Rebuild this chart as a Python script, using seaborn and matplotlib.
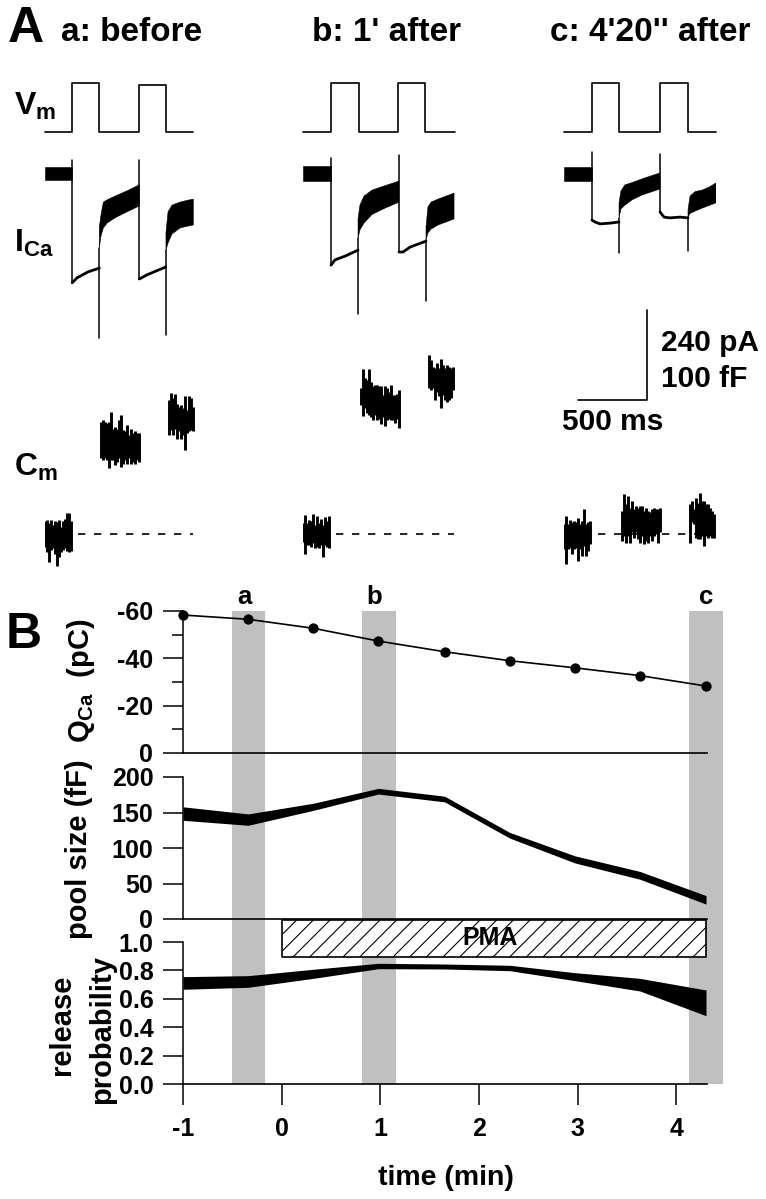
"""Vm, ICa and Cm traces before and after PMA, with the time course below."""

import numpy as np
import pandas as pd
import matplotlib
matplotlib.use('Agg')
import matplotlib.pyplot as plt
import seaborn as sns

nan = float('nan')
FIG_W, FIG_H = 766, 1199

# Panel A, stimulus pulses (ms, mV)
a_vm_t = [0, 198, 198, 394, 394, 684, 684, 875, 875, 1075]
b_vm_t = [0, 200, 200, 406, 406, 689, 689, 885, 885, 1102]
c_vm_t = [0, 203, 203, 399, 399, 696, 696, 899, 899, 1102]
a_vm_mv = [-80, -80, 0, 0, -80, -80, -4, -4, -80, -80]
b_vm_mv = [-80, -80, 0, 0, -80, -80, 0, 0, -80, -80]
c_vm_mv = [-80, -80, 0, 0, -80, -80, 0, 0, -80, -80]

# Panel A, calcium current (ms, pA)
a_spike_t = [198, 198, nan, 394, 394, nan, 684, 684, nan, 875, 875]
a_spike_pa = [37, -290, nan, -197, -437, nan, 37, -280, nan, -203, -429]
a_step_t = [198, 232, 312, 394, nan, 684, 739, 875]
a_step_pa = [-290, -277, -261, -251, nan, -280, -269, -248]
a_band_t = [0, 198, nan, 394, 406, 423, 450, 507, 594, 684, nan, 877, 892, 921, 979, 1022, 1075]
a_band_hi = [19, 19, nan, -141, -109, -75, -69, -59, -45, -29, nan, -157, -101, -83, -75, -71, -67]
a_band_lo = [-16, -16, nan, -197, -165, -144, -131, -117, -101, -85, nan, -203, -184, -160, -144, -140, -136]

b_spike_t = [203, 203, nan, 399, 399, nan, 696, 696, nan, 892, 892]
b_spike_pa = [43, -243, nan, -171, -373, nan, 51, -208, nan, -176, -339]
b_step_t = [203, 232, 305, 399, nan, 696, 725, 776, 892]
b_step_pa = [-243, -229, -219, -203, nan, -208, -208, -195, -179]
b_band_t = [0, 203, nan, 399, 413, 442, 500, 595, 696, nan, 892, 906, 928, 979, 1037, 1095]
b_band_hi = [21, 21, nan, -120, -83, -59, -43, -31, -19, nan, -141, -88, -75, -67, -59, -51]
b_band_lo = [-19, -19, nan, -171, -149, -131, -108, -91, -75, nan, -176, -157, -147, -136, -128, -120]

c_spike_t = [203, 203, nan, 399, 399, nan, 696, 696, nan, 899, 899]
c_spike_pa = [59, -123, nan, -117, -211, nan, 53, -101, nan, -115, -205]
c_step_t = [203, 225, 261, 334, 399, nan, 696, 725, 768, 841, 899]
c_step_pa = [-123, -128, -133, -131, -128, nan, -101, -115, -117, -115, -117]
c_band_t = [0, 203, nan, 399, 413, 442, 493, 566, 696, nan, 899, 914, 950, 1001, 1051, 1102]
c_band_hi = [19, 19, nan, -77, -45, -29, -23, -13, 3, nan, -96, -59, -47, -43, -35, -24]
c_band_lo = [-19, -19, nan, -117, -93, -83, -69, -56, -40, nan, -115, -105, -99, -91, -84, -77]

# Panel A, capacitance noise envelopes (fF), sampled every CM_STEP ms
CM_STEP = 14.5
a_cm_start = [0, 406, 899]
b_cm_start = [0, 420, 914]
c_cm_start = [0, 420, 914]
a0_hi = [14, 16, 12, 16, 10, 15, 13, 16, 8, 14, 17, 23, 23, 14]
a0_lo = [-14, -20, -31, -18, -16, -22, -36, -25, -20, -18, -16, -19, -20, -19]
a1_hi = [125, 127, 125, 123, 125, 136, 117, 119, 117, 127, 132, 116, 114, 121, 110, 117, 112, 114, 112, 112]
a1_lo = [84, 82, 84, 82, 73, 82, 82, 77, 80, 84, 74, 78, 82, 78, 84, 78, 80, 78, 82, 80]
a2_hi = [149, 157, 151, 156, 145, 141, 143, 140, 153, 138, 153, 151, 141]
a2_lo = [110, 116, 110, 117, 106, 114, 106, 110, 93, 112, 114, 116, 114]
b0_hi = [12, 21, 12, 16, 14, 22, 10, 20, 12, 17, 10, 19, 14, 20]
b0_lo = [-9, -22, -12, -12, -14, -10, -16, -14, -16, -12, -25, -12, -14, -16]
b1_hi = [162, 183, 173, 171, 183, 169, 164, 166, 166, 164, 164, 154, 164, 162, 158, 166, 154, 154, 156, 160]
b1_lo = [143, 131, 140, 134, 132, 130, 127, 132, 127, 128, 122, 130, 120, 127, 128, 127, 127, 123, 128, 118]
b2_hi = [199, 193, 186, 184, 190, 184, 195, 188, 184, 188, 186, 184, 186]
b2_lo = [162, 160, 162, 149, 158, 153, 140, 154, 149, 147, 149, 151, 160]
c0_hi = [11, 20, 11, 16, 13, 15, 13, 18, 11, 15, 28, 11, 13, 15]
c0_lo = [-17, -33, -17, -15, -22, -17, -15, -30, -17, -24, -13, -24, -19, -11]
c1_hi = [26, 44, 33, 42, 29, 37, 28, 31, 29, 31, 31, 26, 29, 26, 24, 28, 29, 28, 28, 29]
c1_lo = [-8, -2, -10, -2, -10, 2, -4, 2, -6, -10, -2, -11, -8, -10, -2, -8, -2, 0, -10, 2]
c2_hi = [33, 37, 28, 40, 35, 46, 37, 37, 33, 33, 29, 26, 22]
c2_lo = [-10, 13, 11, -4, -6, -6, -2, -13, -2, -4, -2, -4, -4]

# Dashed pre-stimulus level, start and end (ms)
a_dash_t = [239, 1073]
b_dash_t = [239, 1095]
c_dash_t = [246, 1102]

# Scale bar, 500 ms and 100 fF (240 pA)
bar_t = [102, 602, 602]
bar_ff = [149, 149, 249]

# Panel B
time_min = [-1, -0.34, 0.32, 0.98, 1.65, 2.31, 2.97, 3.63, 4.3]
qca_pc = [-58.3, -56.5, -52.7, -47.3, -42.8, -39, -36, -32.7, -28.3]
pool_hi = [158, 148, 163, 184, 173, 122, 89, 67, 33]
pool_lo = [139, 132, 153, 176, 165, 114, 79, 56, 21]
prob_hi = [0.756, 0.763, 0.808, 0.85, 0.845, 0.836, 0.784, 0.744, 0.662]
prob_lo = [0.667, 0.681, 0.744, 0.812, 0.81, 0.798, 0.728, 0.655, 0.481]
shade_start = [-0.507, 0.817, 4.13]
shade_end = [-0.172, 1.155, 4.47]
shade_names = ['a', 'b', 'c']
shade_name_t = [-0.38, 0.94, 4.3]
pma_start, pma_end = 0, 4.3
pma_bottom, pma_top = 0.894, 1.155

sns.set_style('ticks')
plt.rcParams['font.family'] = ['Liberation Sans', 'DejaVu Sans']
plt.rcParams['font.weight'] = 'bold'
plt.rcParams['axes.unicode_minus'] = False
plt.rcParams['text.color'] = 'black'
plt.rcParams['axes.edgecolor'] = 'black'
plt.rcParams['xtick.color'] = 'black'
plt.rcParams['ytick.color'] = 'black'
plt.rcParams['mathtext.fontset'] = 'custom'
plt.rcParams['mathtext.bf'] = 'Liberation Sans:bold'
plt.rcParams['mathtext.rm'] = 'Liberation Sans:bold'
plt.rcParams['hatch.linewidth'] = 0.8

fig = plt.figure(figsize=(FIG_W / 100, FIG_H / 100), dpi=100)


def px_axes(left, top, right, bottom, **kwargs):
    """Axes placed with reference image pixel edges."""
    rect = [left / FIG_W, 1 - bottom / FIG_H, (right - left) / FIG_W, (bottom - top) / FIG_H]
    ax = fig.add_axes(rect, **kwargs)
    ax.patch.set_alpha(0)
    return ax


def px_text(x, y, s, **kwargs):
    fig.text(x / FIG_W, 1 - y / FIG_H, s, **kwargs)


def draw_trace(ax, t, y, lw, **kwargs):
    # seaborn drops NaN rows, so gaps have to become separate units
    df = pd.DataFrame({'t': t, 'y': y})
    df['seg'] = df['y'].isna().cumsum()
    sns.lineplot(data=df, x='t', y='y', units='seg', estimator=None, sort=False,
                 color='black', lw=lw, ax=ax, **kwargs)
    ax.set_xlabel('')
    ax.set_ylabel('')


columns = [
    (45, a_vm_t, a_vm_mv, a_spike_t, a_spike_pa, a_step_t, a_step_pa, a_band_t, a_band_hi, a_band_lo,
     a_cm_start, [(a0_hi, a0_lo), (a1_hi, a1_lo), (a2_hi, a2_lo)], a_dash_t),
    (303, b_vm_t, b_vm_mv, b_spike_t, b_spike_pa, b_step_t, b_step_pa, b_band_t, b_band_hi, b_band_lo,
     b_cm_start, [(b0_hi, b0_lo), (b1_hi, b1_lo), (b2_hi, b2_lo)], b_dash_t),
    (564, c_vm_t, c_vm_mv, c_spike_t, c_spike_pa, c_step_t, c_step_pa, c_band_t, c_band_hi, c_band_lo,
     c_cm_start, [(c0_hi, c0_lo), (c1_hi, c1_lo), (c2_hi, c2_lo)], c_dash_t),
]

for left, vm_t, vm_mv, sp_t, sp_pa, st_t, st_pa, bd_t, bd_hi, bd_lo, cm_start, cm_blocks, dash_t in columns:
    right = left + 152

    ax_vm = px_axes(left, 82.7, right, 132.3)
    draw_trace(ax_vm, vm_t, vm_mv, 1.2, clip_on=False)
    ax_vm.set_xlim(0, 1102)
    ax_vm.set_ylim(-80, 0)
    ax_vm.axis('off')

    ax_i = px_axes(left, 150, right, 340)
    ax_i.fill_between(bd_t, bd_lo, bd_hi, color='black', lw=0.4)
    draw_trace(ax_i, sp_t, sp_pa, 1.1)
    draw_trace(ax_i, st_t, st_pa, 2.0)
    ax_i.set_xlim(0, 1102)
    ax_i.set_ylim(-442.7, 64)
    ax_i.axis('off')

    ax_cm = px_axes(left, 300, right, 570)
    for start, (hi, lo) in zip(cm_start, cm_blocks):
        ts = start + CM_STEP * np.arange(len(hi))
        ax_cm.vlines(ts, lo, hi, color='black', lw=2.1)
    ax_cm.plot(dash_t, [0, 0], color='black', lw=1.2, dashes=(4.4, 5.2))
    ax_cm.set_xlim(0, 1102)
    ax_cm.set_ylim(-40, 260)
    ax_cm.axis('off')
    if left == 564:
        draw_trace(ax_cm, bar_t, bar_ff, 1.2)
        ax_cm.set_xlim(0, 1102)
        ax_cm.set_ylim(-40, 260)

# Grey windows run through all three panels of B
ax_bg = px_axes(183, 611, 723, 1084)
for s0, s1 in zip(shade_start, shade_end):
    ax_bg.axvspan(s0, s1, color='#c0c0c0', lw=0)
ax_bg.set_xlim(-1, 4.47)
ax_bg.axis('off')

ax_q = px_axes(183, 611, 707, 753)
ax_pool = px_axes(183, 777, 707, 919)
ax_prob = px_axes(183, 942, 707, 1084)

sns.lineplot(x=time_min, y=qca_pc, color='black', lw=1.2, marker='o', markersize=7.4,
             markeredgewidth=0, clip_on=False, ax=ax_q)
ax_pool.fill_between(time_min, pool_lo, pool_hi, color='black', lw=0)
ax_prob.fill_between(time_min, prob_lo, prob_hi, color='black', lw=0)

ax_prob.fill_between([pma_start, pma_end], pma_bottom, pma_top, facecolor='white', edgecolor='black',
                     hatch='//', lw=1.2, clip_on=False, zorder=3)
ax_prob.text((pma_start + pma_end) / 2 - 0.04, 1.025, 'PMA', fontsize=18, ha='center', va='center',
             zorder=4)

for ax in (ax_q, ax_pool, ax_prob):
    ax.set_xlim(-1, 4.31)
    sns.despine(ax=ax, top=True, right=True)
    ax.spines['left'].set_linewidth(1.1)
    ax.spines['bottom'].set_linewidth(1.2)
    ax.tick_params(axis='y', which='major', length=14.4, width=1.1, pad=7, labelsize=18)
    ax.tick_params(axis='y', which='minor', length=8, width=1.1)
    ax.set_xticks([])
    ax.set_xlabel('')
    ax.set_ylabel('')

ax_q.set_ylim(0, -60)
ax_q.set_yticks([0, -20, -40, -60])
ax_q.set_yticks([-10, -30, -50], minor=True)
ax_pool.set_ylim(0, 200)
ax_pool.set_yticks([0, 50, 100, 150, 200])
ax_prob.set_ylim(0, 1)
ax_prob.set_yticks([0, 0.2, 0.4, 0.6, 0.8, 1.0])
ax_prob.set_yticklabels(['0.0', '0.2', '0.4', '0.6', '0.8', '1.0'])
ax_prob.set_xticks([-1, 0, 1, 2, 3, 4])
ax_prob.tick_params(axis='x', length=15, width=1.1, pad=9, labelsize=18)

for name, t in zip(shade_names, shade_name_t):
    ax_q.text(t, -66, name, fontsize=18.5, ha='center', va='center', clip_on=False)

# Text placed to match the figure composition
px_text(8, 42, 'A', fontsize=36, va='baseline')
px_text(6, 648, 'B', fontsize=36, va='baseline')
px_text(61, 41, 'a: before', fontsize=24, va='baseline')
px_text(312, 41, "b: 1' after", fontsize=24, va='baseline')
px_text(550, 41, "c: 4'20'' after", fontsize=24, va='baseline')
px_text(14, 115, r'V$_{\mathbf{m}}$', fontsize=23, va='baseline')
px_text(14, 252, r'I$_{\mathbf{Ca}}$', fontsize=23, va='baseline')
px_text(14, 476, r'C$_{\mathbf{m}}$', fontsize=23, va='baseline')
px_text(661, 351, '240 pA', fontsize=21.5, va='baseline')
px_text(661, 387, '100 fF', fontsize=21.5, va='baseline')
px_text(562, 430, '500 ms', fontsize=21.5, va='baseline')
px_text(81, 681, r'Q$_{\mathbf{Ca}}$  (pC)', fontsize=21, rotation=90, ha='center', va='center')
px_text(79, 849, 'pool size (fF)', fontsize=21, rotation=90, ha='center', va='center')
px_text(62, 1025, 'release', fontsize=21, rotation=90, ha='center', va='center')
px_text(102, 1029, 'probability', fontsize=21, rotation=90, ha='center', va='center')
px_text(446, 1178, 'time (min)', fontsize=20.5, ha='center', va='center')

fig.savefig('out.png', dpi=100)
print('Saved: out.png')
